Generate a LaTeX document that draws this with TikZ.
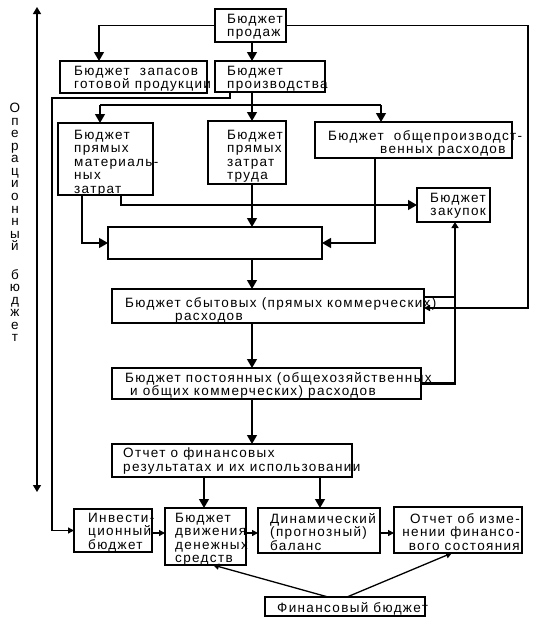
\documentclass[tikz,border=0pt]{standalone}
\usepackage{fontspec}
\setmainfont{Liberation Sans}[LetterSpace=10]
\usetikzlibrary{arrows.meta}
\newcommand\fs{\fontsize{13.5}{13.5}\selectfont}
\begin{document}
\begin{tikzpicture}[x=1pt,y=-1pt,
 box/.style={draw, line width=1.3pt, anchor=north west, inner sep=0pt, outer sep=0pt},
 txt/.style={inner sep=0pt, anchor=north west, align=left, font=\fs},
 txtr/.style={inner sep=0pt, anchor=north east, align=right, font=\fs},
 ln/.style={line width=1.3pt},
 arr/.style={ln, -{Triangle[width=10pt,length=9pt]}},
 sarr/.style={ln, -{Triangle[width=6pt,length=6pt]}},
 thk/.style={line width=2.6pt, -{Triangle[width=7pt,length=6pt]}},
 vlabel/.style={inner sep=0pt, anchor=north, align=center, font=\fontsize{13.5}{12.55}\selectfont}
]
\fill[white] (0,0) rectangle (535,621);
\useasboundingbox (0,0) rectangle (535,621);

% boxes
\node[box, minimum width=71pt,  minimum height=33pt] (sales) at (215,9) {};
\node[box, minimum width=147pt, minimum height=32pt] (stock) at (60,61) {};
\node[box, minimum width=110pt, minimum height=31pt] (prod)  at (215,61) {};
\node[box, minimum width=95pt,  minimum height=72pt] (mat)   at (58,123) {};
\node[box, minimum width=78pt,  minimum height=63pt] (lab)   at (208,121) {};
\node[box, minimum width=197pt, minimum height=36pt] (ovh)   at (315,122) {};
\node[box, minimum width=73pt,  minimum height=34pt] (pur)   at (417,188) {};
\node[box, minimum width=214pt, minimum height=32pt] (big)   at (108,227) {};
\node[box, minimum width=312pt, minimum height=34pt] (com)   at (112,289) {};
\node[box, minimum width=309pt, minimum height=31pt] (fix)   at (112,368) {};
\node[box, minimum width=240pt, minimum height=33pt] (rep)   at (112,444) {};
\node[box, minimum width=78pt,  minimum height=43pt] (inv)   at (74,509) {};
\node[box, minimum width=81pt,  minimum height=57pt] (cash)  at (165,508) {};
\node[box, minimum width=122pt, minimum height=45pt] (dyn)   at (258,508) {};
\node[box, minimum width=128pt, minimum height=46pt] (chg)   at (394,507) {};
\node[box, minimum width=160pt, minimum height=19pt] (fin)   at (265,597) {};

% texts
\node[txt] (sales-t) at (227,14) {Бюджет\\продаж};
\node[txt] (stock-t) at (74,66) {Бюджет\ \ запасов\\готовой продукции};
\node[txt] (prod-t) at (227,66) {Бюджет\\производства};
\node[txt] (mat-t) at (74,130) {Бюджет\\прямых\\материаль-\\ных\\затрат};
\node[txt] (lab-t) at (227,130) {Бюджет\\прямых\\затрат\\труда};
\node[txt] (ovh-t) at (328,130) {Бюджет\ \ общепроизводст-\\\hspace*{52pt}венных расходов};
\node[txtr] (pur-t) at (486,193) {Бюджет\\закупок};
\node[txt] (com-t) at (125,297) {Бюджет сбытовых (прямых коммерческих)\\\hspace*{50pt}расходов};
\node[txt] (fix-t) at (125,372) {Бюджет постоянных (общехозяйственных\\\hspace*{5pt}и общих коммерческих) расходов};
\node[txt] (rep-t) at (123,448) {Отчет о финансовых\\результатах и их использовании};
\node[txt] (inv-t) at (88,513) {Инвести-\\ционный\\бюджет};
\node[txt] (cash-t) at (175,513) {Бюджет\\движения\\денежных\\средств};
\node[txt] (dyn-t) at (270,513) {Динамический\\(прогнозный)\\баланс};
\node[txtr] (chg-t) at (520,513) {Отчет об изме-\\нении финансо-\\вого состояния};
\node[txt] (fin-t) at (277,602) {Финансовый бюджет};

% vertical label
\node[vlabel] (oplabel) at (15,103) {О\\п\\е\\р\\а\\ц\\и\\о\\н\\н\\ы\\й\\[16pt]б\\ю\\д\\ж\\е\\т};

% coordinates
\coordinate (la) at (37,7);
\coordinate (lz) at (37,492);
\coordinate (x99) at (99,0);
\coordinate (x252) at (252,0);
\coordinate (x230) at (230,0);
\coordinate (lb) at (52,98);
\coordinate (rr) at (528,308);
\coordinate (h1) at (100,105);
\coordinate (h2) at (381,105);
\coordinate (x82) at (82,0);
\coordinate (x121) at (121,0);
\coordinate (x375) at (375,0);
\coordinate (x455) at (455,0);
\coordinate (y297) at (0,297);
\coordinate (x204) at (204,0);
\coordinate (x320) at (320,0);
\coordinate (y533) at (0,533);
\coordinate (f1) at (328,0);
\coordinate (f2) at (347,0);
\coordinate (cb) at (213,0);
\coordinate (chb) at (452,0);

% connectors
\draw[ln, {Triangle[width=8pt,length=7pt]}-{Triangle[width=8pt,length=7pt]}] (la) -- (lz);
\draw[arr] (sales.west) -| (stock.north -| x99);
\draw[arr] (sales.south -| x252) -- (prod.north -| x252);
\draw[sarr] (sales.east) -| (rr) -- (rr -| com.east);
\draw[sarr] (prod.south -| x230) |- (lb) |- (inv.west);
\draw[arr] (prod.south -| x252) -- (lab.north -| x252);
\draw[ln] (h1) -- (h2);
\draw[arr] (h1) -- (mat.north -| h1);
\draw[arr] (h2) -- (ovh.north -| h2);
\draw[arr] (mat.south -| x82) |- (big.west);
\draw[arr] (mat.south -| x121) |- (pur.west);
\draw[arr] (lab.south -| x252) -- (big.north -| x252);
\draw[arr] (ovh.south -| x375) |- (big.east);
\draw[arr] (big.south -| x252) -- (com.north -| x252);
\draw[ln] (com.east |- y297) -- (x455 |- y297);
\draw[thk] (fix.east) -| (pur.south -| x455);
\draw[arr] (com.south -| x252) -- (fix.north -| x252);
\draw[arr] (fix.south -| x252) -- (rep.north -| x252);
\draw[arr] (rep.south -| x204) -- (cash.north -| x204);
\draw[arr] (rep.south -| x320) -- (dyn.north -| x320);
\draw[sarr] (inv.east |- y533) -- (cash.west |- y533);
\draw[sarr] (cash.east |- y533) -- (dyn.west |- y533);
\draw[sarr] (dyn.east |- y533) -- (chg.west |- y533);
\draw[sarr] (fin.north -| f1) -- (cash.south -| cb);
\draw[sarr] (fin.north -| f2) -- (chg.south -| chb);
\end{tikzpicture}
\end{document}
